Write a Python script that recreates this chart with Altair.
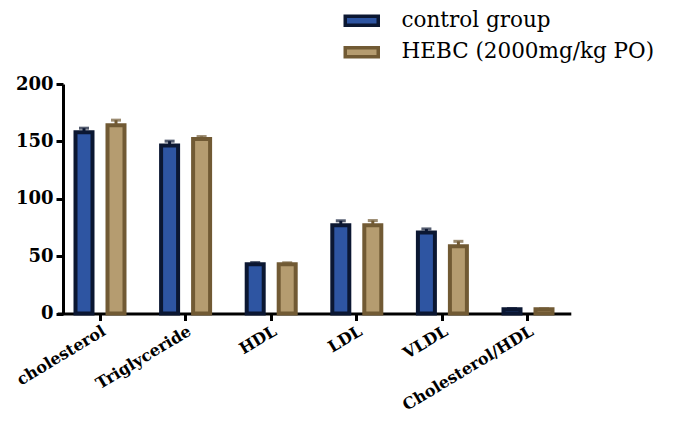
import altair as alt
import pandas as pd

categories = ["cholesterol", "Triglyceride", "HDL", "LDL", "VLDL", "Cholesterol/HDL"]
groups = ["control group", "HEBC (2000mg/kg PO)"]
control_values = [158, 146.5, 43, 77, 70.5, 3.7]
control_errors = [3.5, 3.7, 1.4, 3.8, 3.2, 0.6]
hebc_values = [164, 152, 43, 77, 58.5, 3.6]
hebc_errors = [4.5, 2.2, 1.2, 4.0, 4.4, 0.5]

fill_colors = ["#2E55A2", "#B59C70"]
stroke_colors = ["#0B1732", "#715A34"]

rows = []
for i, c in enumerate(categories):
    rows.append({"category": c, "group": groups[0], "value": control_values[i],
                 "top": control_values[i] + control_errors[i]})
    rows.append({"category": c, "group": groups[1], "value": hebc_values[i],
                 "top": hebc_values[i] + hebc_errors[i]})
df = pd.DataFrame(rows)

xenc = alt.X("category:N", sort=categories, title=None,
             scale=alt.Scale(paddingInner=0.2, paddingOuter=0.1, range=[4.2, 517.8]),
             axis=alt.Axis(labelAngle=-31, labelFont="DejaVu Serif", labelFontWeight="bold",
                           labelFontSize=16, labelColor="black", domainColor="black",
                           domainWidth=3, tickColor="black", tickWidth=3, tickSize=7,
                           labelPadding=2, labelAlign="right", labelBaseline="top",
                           labelOverlap=False))
xoff = alt.XOffset("group:N", sort=groups,
                   scale=alt.Scale(paddingInner=0, paddingOuter=0.07))

fill_scale = alt.Scale(domain=groups, range=fill_colors)
stroke_scale = alt.Scale(domain=groups, range=stroke_colors)
legend = alt.Legend(title=None, orient="none", legendX=298, legendY=-74,
                    symbolType="M-5.5,-1.5H5.5V1.5H-5.5Z", symbolSize=36,
                    symbolStrokeWidth=3.5, labelFont="DejaVu Serif", labelFontSize=21.5,
                    labelColor="black", labelOffset=29, rowPadding=7.5, symbolOpacity=1,
                    labelLimit=400)

yenc = alt.Y("value:Q", title=None,
             scale=alt.Scale(domain=[0, 200], nice=False),
             axis=alt.Axis(values=[0, 50, 100, 150, 200], grid=False, offset=-10,
                           labelFont="DejaVu Serif", labelFontWeight="bold", labelFontSize=18,
                           labelColor="black", domainColor="black", domainWidth=3,
                           tickColor="black", tickWidth=3, tickSize=7, labelPadding=3))

base = alt.Chart(df)

bars = base.mark_bar(size=17, strokeWidth=4, opacity=1).encode(
    x=xenc, xOffset=xoff, y=yenc,
    fill=alt.Fill("group:N", sort=groups, scale=fill_scale, legend=legend),
    stroke=alt.Stroke("group:N", sort=groups, scale=stroke_scale, legend=legend),
)

rules = base.mark_rule(strokeWidth=3).encode(
    x=xenc, xOffset=xoff, y="value:Q", y2="top:Q",
    stroke=alt.Stroke("group:N", sort=groups, scale=stroke_scale, legend=legend),
)

caps = base.mark_tick(size=10, thickness=3, orient="horizontal").encode(
    x=xenc, xOffset=xoff, y="top:Q",
    color=alt.Color("group:N", sort=groups, scale=stroke_scale, legend=None),
)

chart = alt.layer(rules, bars, caps).properties(
    width=516, height=229.5,
    autosize=alt.AutoSizeParams(type="none"),
    padding={"left": 45, "top": 76, "right": 103, "bottom": 101.5},
).configure_view(stroke=None).resolve_scale(color="independent")

chart.save("out.html", embed_options={"renderer": "svg", "actions": False})
